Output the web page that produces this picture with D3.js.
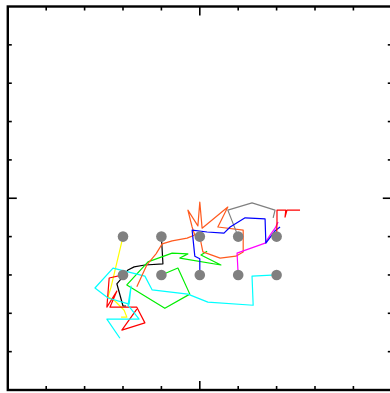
<!DOCTYPE html>
<html>
<head>
<meta charset="utf-8">
<script src="https://cdn.jsdelivr.net/npm/d3@7"></script>
<style>
  html, body { margin: 0; padding: 0; background: #fff; }
  svg { display: block; }
</style>
</head>
<body>
<svg id="chart" width="390" height="393"></svg>
<script>
// Axis ticks (both axes run from -5 to 5)
const tickValues = [-4, -3, -2, -1, 0, 1, 2, 3, 4];

// Starting grid of the walkers
const startX = [-2, -1, 0, 1, 2];
const startY = [-1, -2];

// One walk per walker: x and y positions of each step
const yellowX = [-2.0, -2.31, -2.39, -2.21, -1.97, -1.90, -2.05];
const yellowY = [-1.0, -2.31, -2.57, -2.68, -2.92, -3.10, -3.10];

const blackX = [-1.0, -0.96, -1.43, -1.71, -1.87, -2.05, -2.16, -2.0, -1.92];
const blackY = [-1.0, -1.71, -1.74, -1.79, -1.87, -2.10, -2.23, -2.81, -2.81];

const orangeX = [0.0, 0.08, 0.53, 0.94, 1.13, 1.13, 0.47, 0.73, 0.06, 0.0, -0.05, -0.31, -0.20, -0.13, -0.33, -0.72, -0.98, -1.14, -1.38, -1.64];
const orangeY = [-1.0, -1.40, -1.56, -1.51, -1.40, -0.83, -0.75, -0.23, -0.78, -0.10, -0.72, -0.31, -0.75, -0.96, -1.04, -1.11, -1.19, -1.45, -1.74, -2.31];

const grayX = [1.0, 0.73, 1.36, 1.96, 1.91];
const grayY = [-1.0, -0.31, -0.12, -0.31, -0.51];

const redTopX = [2.0, 2.01, 2.01, 2.24, 2.22, 2.27, 2.61];
const redTopY = [-1.0, -0.62, -0.31, -0.31, -0.49, -0.31, -0.31];

const redLeftX = [-2.0, -2.36, -2.42, -2.16, -2.34, -1.64, -1.43, -2.03, -1.64];
const redLeftY = [-2.0, -2.08, -2.84, -2.42, -2.84, -2.84, -3.25, -3.44, -2.89];

const greenX = [-1.0, -0.57, -0.26, -0.91, -1.74, -1.90, -1.35, -0.72, -0.31, -0.52, 0.55, 0.03, 0.19];
const greenY = [-2.0, -1.82, -2.50, -2.87, -2.36, -2.26, -1.66, -1.43, -1.45, -1.56, -1.74, -1.48, -1.38];

const blueX = [0.0, 0.0, -0.13, -0.20, 0.19, 0.63, 0.79, 1.18, 1.70, 1.72, 1.96, 2.09];
const blueY = [-2.0, -1.58, -1.51, -0.83, -0.88, -0.91, -0.75, -0.51, -0.54, -1.17, -0.85, -0.75];

const magentaX = [1.0, 0.97, 1.70, 1.83, 1.96, 2.04];
const magentaY = [-2.0, -1.43, -1.17, -0.96, -0.78, -0.62];

const cyanX = [2.0, 1.36, 1.39, 0.21, -0.31, -1.24, -1.43, -2.26, -2.73, -2.39, -1.84, -1.79, -1.87, -1.58, -2.42, -2.08];
const cyanY = [-2.0, -2.03, -2.79, -2.71, -2.50, -2.39, -2.03, -1.82, -2.34, -2.60, -2.76, -2.29, -2.79, -3.15, -3.15, -3.65];

const walks = [
  { xs: yellowX,  ys: yellowY,  color: "#ffff00" },
  { xs: blackX,   ys: blackY,   color: "#000000" },
  { xs: redLeftX, ys: redLeftY, color: "#ff0000" },
  { xs: greenX,   ys: greenY,   color: "#00ee00" },
  { xs: cyanX,    ys: cyanY,    color: "#00ffff" },
  { xs: orangeX,  ys: orangeY,  color: "#ff5a1e" },
  { xs: grayX,    ys: grayY,    color: "#808080" },
  { xs: magentaX, ys: magentaY, color: "#ff00ff" },
  { xs: blueX,    ys: blueY,    color: "#0000ff" },
  { xs: redTopX,  ys: redTopY,  color: "#ff0000" }
];

const svg = d3.select("#chart");
const frameL = 7.8, frameR = 391.8, frameT = 6.5, frameB = 390;

const x = d3.scaleLinear().domain([-5, 5]).range([frameL, frameR]);
const y = d3.scaleLinear().domain([-5, 5]).range([frameB, frameT]);

// Walk paths
const line = d3.line().x(d => x(d[0])).y(d => y(d[1]));
svg.append("g")
  .selectAll("path")
  .data(walks)
  .join("path")
  .attr("d", w => line(d3.zip(w.xs, w.ys)))
  .attr("fill", "none")
  .attr("stroke", w => w.color)
  .attr("stroke-width", 1.2)
  .attr("stroke-linejoin", "round");

// Starting points
const starts = d3.cross(startY, startX).map(([sy, sx]) => [sx, sy]);
svg.append("g")
  .selectAll("circle")
  .data(starts)
  .join("circle")
  .attr("cx", d => x(d[0]))
  .attr("cy", d => y(d[1]))
  .attr("r", 5.3)
  .attr("fill", "#808080");

// Inward ticks on all four sides; the centre tick is longer
const tickLen = v => (v === 0 ? 9 : 4);
const ticks = svg.append("g").attr("stroke", "#000").attr("stroke-width", 1.6);
tickValues.forEach(v => {
  const len = tickLen(v);
  ticks.append("line").attr("x1", x(v)).attr("x2", x(v)).attr("y1", frameB).attr("y2", frameB - len);
  ticks.append("line").attr("x1", x(v)).attr("x2", x(v)).attr("y1", frameT).attr("y2", frameT + len);
  ticks.append("line").attr("y1", y(v)).attr("y2", y(v)).attr("x1", frameL).attr("x2", frameL + len);
  ticks.append("line").attr("y1", y(v)).attr("y2", y(v)).attr("x1", frameR).attr("x2", frameR - len);
});

// Frame
svg.append("rect")
  .attr("x", frameL).attr("y", frameT)
  .attr("width", frameR - frameL).attr("height", frameB - frameT)
  .attr("fill", "none")
  .attr("stroke", "#000")
  .attr("stroke-width", 2.4);
</script>
</body>
</html>
